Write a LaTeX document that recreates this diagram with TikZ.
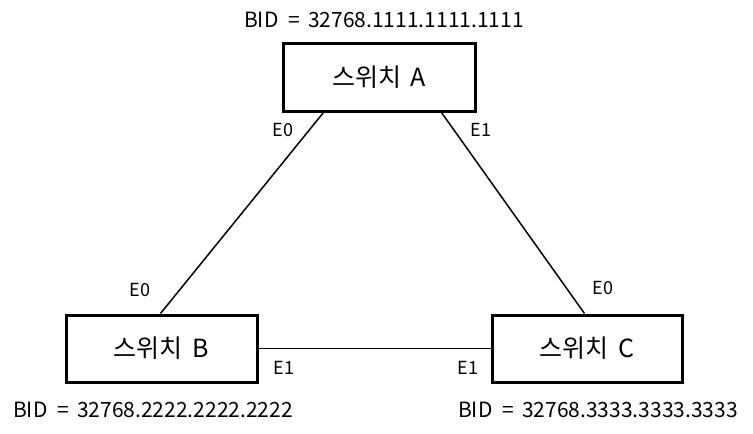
\documentclass[tikz,border=0pt]{standalone}
\usepackage{fontspec}
\setmainfont{Noto Sans CJK KR}
\newcommand{\bideq}{BID\hspace{10pt}=\hspace{8pt}}
\begin{document}
\begin{tikzpicture}[x=1pt,y=-1pt,
  switchbox/.style={draw=black,line width=3pt,fill=white,inner sep=0pt,font=\fontsize{25}{28}\selectfont},
  bidlabel/.style={inner sep=0pt,font=\fontsize{21}{24}\selectfont},
  portlabel/.style={inner sep=0pt,font=\fontsize{18}{21}\selectfont},
  link/.style={line width=1.5pt}]
\useasboundingbox (0,0) rectangle (753,434);
\node[switchbox,minimum width=192pt,minimum height=68pt] (A) at (379,77) {스위치\hspace{4pt} A};
\node[switchbox,minimum width=191pt,minimum height=67pt] (B) at (161.5,348.5) {스위치\hspace{4pt} B};
\node[switchbox,minimum width=190pt,minimum height=67pt] (C) at (587,348.5) {스위치\hspace{4pt} C};
\draw[link] ([xshift=42pt]A.south west) -- ([xshift=96pt]B.north west);
\draw[link] ([xshift=-35pt]A.south east) -- ([xshift=94pt]C.north west);
\draw[link] (B.east) -- (C.west);
\node[bidlabel] (bidA) at (384,20) {\bideq 32768.1111.1111.1111};
\node[bidlabel] (bidB) at (153,410) {\bideq 32768.2222.2222.2222};
\node[bidlabel] (bidC) at (598,410) {\bideq 32768.3333.3333.3333};
\node[portlabel] (a0) at (283,130) {E0};
\node[portlabel] (a1) at (481,130) {E1};
\node[portlabel] (b0) at (140,290) {E0};
\node[portlabel] (b1) at (284,368) {E1};
\node[portlabel] (c0) at (603,288) {E0};
\node[portlabel] (c1) at (468,368) {E1};
\end{tikzpicture}
\end{document}
